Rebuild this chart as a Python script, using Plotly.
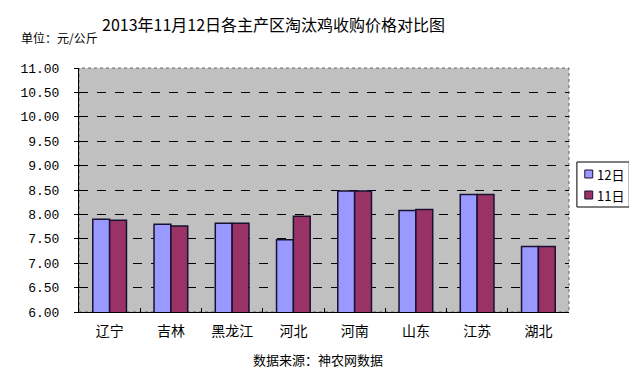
import plotly.graph_objects as go

categories = ["辽宁", "吉林", "黑龙江", "河北", "河南", "山东", "江苏", "湖北"]
day12 = [7.90, 7.80, 7.82, 7.48, 8.48, 8.08, 8.41, 7.34]
day11 = [7.88, 7.76, 7.82, 7.96, 8.48, 8.10, 8.41, 7.34]
series_names = ["12日", "11日"]
series_colors = ["#9999FF", "#993366"]
yticks = [6.0 + 0.5 * i for i in range(11)]
ytick_text = ["%.2f" % v for v in yticks]

cjk = "Noto Sans CJK SC"
W, H = 629, 362
L, R, T, B = 65, 68, 60, 58
PW, PH = W - L - R, H - T - B
edge = "#1a1030"

fig = go.Figure()
for name, vals, col in zip(series_names, [day12, day11], series_colors):
    fig.add_bar(x=categories, y=vals, name=name, marker=dict(color=col, line=dict(color=edge, width=1.5)))

def px_x(x):
    return (x - L) / PW

def px_y(y):
    return (T + PH - y) / PH

annotations = [
    dict(text="2013年11月12日各主产区淘汰鸡收购价格对比图", x=px_x(262), y=px_y(16),
         xref="paper", yref="paper", showarrow=False, xanchor="center", yanchor="middle",
         font=dict(family=cjk, size=16, color="black")),
    dict(text="单位：元/公斤", x=px_x(4), y=px_y(29), xref="paper", yref="paper", showarrow=False,
         xanchor="left", yanchor="middle", font=dict(family=cjk, size=12, color="black")),
    dict(text="数据来源：神农网数据", x=px_x(307), y=px_y(351), xref="paper", yref="paper",
         showarrow=False, xanchor="center", yanchor="middle",
         font=dict(family=cjk, size=13, color="black")),
]
shapes = [
    dict(type="rect", xref="paper", yref="paper", x0=0, x1=1, y0=0, y1=1,
         line=dict(color="#666666", width=1, dash="dot"), layer="below"),
    dict(type="rect", xref="paper", yref="paper", x0=px_x(569), x1=px_x(622),
         y0=px_y(199), y1=px_y(154), line=dict(color="black", width=1), fillcolor="white"),
]
for i, (name, col) in enumerate(zip(series_names, series_colors)):
    cy = 166 + i * 21
    shapes.append(dict(type="rect", xref="paper", yref="paper", x0=px_x(577), x1=px_x(585),
                       y0=px_y(cy + 4), y1=px_y(cy - 4), line=dict(color=edge, width=1), fillcolor=col))
    annotations.append(dict(text=name, x=px_x(587), y=px_y(cy), xref="paper", yref="paper",
                            showarrow=False, xanchor="left", yanchor="middle",
                            font=dict(family=cjk, size=13, color="black")))

fig.update_layout(
    width=W, height=H,
    margin=dict(l=L, r=R, t=T, b=B),
    paper_bgcolor="white", plot_bgcolor="#C0C0C0",
    barmode="group", bargap=0.45, bargroupgap=0,
    showlegend=False,
    font=dict(family=cjk, color="black"),
    annotations=annotations,
    shapes=shapes,
)

fig.update_xaxes(showline=True, linecolor="black", linewidth=1, mirror=False,
                 ticks="inside", tickson="boundaries", ticklen=4, tickcolor="black",
                 tickfont=dict(family=cjk, size=14, color="black"), showgrid=False,
                 ticklabelstandoff=6)
fig.update_yaxes(range=[6, 11], tickvals=yticks, ticktext=ytick_text,
                 showline=True, linecolor="black", linewidth=1,
                 ticks="outside", ticklen=4, tickcolor="black",
                 showgrid=True, gridcolor="black", griddash="dash", gridwidth=1,
                 tickfont=dict(family="Liberation Mono", size=13, color="black"),
                 ticklabelstandoff=12, zeroline=False)

fig.write_html("out.html")
